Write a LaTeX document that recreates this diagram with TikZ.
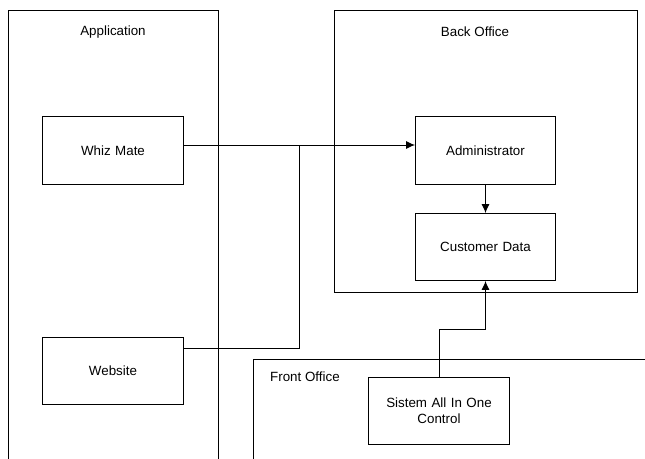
\documentclass[tikz,border=0pt]{standalone}
\usepackage{fontspec}
\setmainfont{Liberation Sans}
\usetikzlibrary{arrows,arrows.meta,positioning}
\tikzset{block/.style={rectangle, draw, fill=white, text width=3.3cm, align=center,
 minimum width=3.5cm, minimum height=1.675cm, inner sep=0pt}}
\tikzset{line/.style={draw, -{Latex[length=2.2mm,width=2mm]}}}

\begin{document}
\begin{tikzpicture}[x=0.025cm, y=-0.025cm, line width=0.7pt, font=\fontsize{9.5}{11.5}\selectfont]
        \useasboundingbox (0,0) rectangle (645,459);
        \clip (0,0) rectangle (645,459);

        % groups
        \draw (8,470) |- (218,10) -- (218,470);
        \draw (334,10) rectangle (637,292);
        \draw (253,470) |- (660,359);
        \node (applbl) at (113,32) {Application};
        \node (backlbl) at (475,32) {Back Office};
        \node[anchor=west] (frontlbl) at (265,377) {Front Office};

        % blocks
        \node[block] (whiz) at (113,150.5) {Whiz Mate};
        \node[block] (web) at (113,371) {Website};
        \node[block] (admin) at (485.5,150.5) {Administrator};
        \node[block] (cust) at (485.5,247) {Customer Data};
        \node[block] (sistem) at (439,410.5) {Sistem All In One\\Control};

        \coordinate (join) at (299,145);
        \coordinate (webout) at (183,348);
        \coordinate (bend) at (485.5,329);

        \path[line] (whiz.east |- join) -- (admin.west |- join);
        \draw (web.east |- webout) -| (join);
        \path[line] (admin) -- (cust);
        \path[line] (sistem.north) |- (bend) -- (cust.south);
      \end{tikzpicture}
\end{document}
